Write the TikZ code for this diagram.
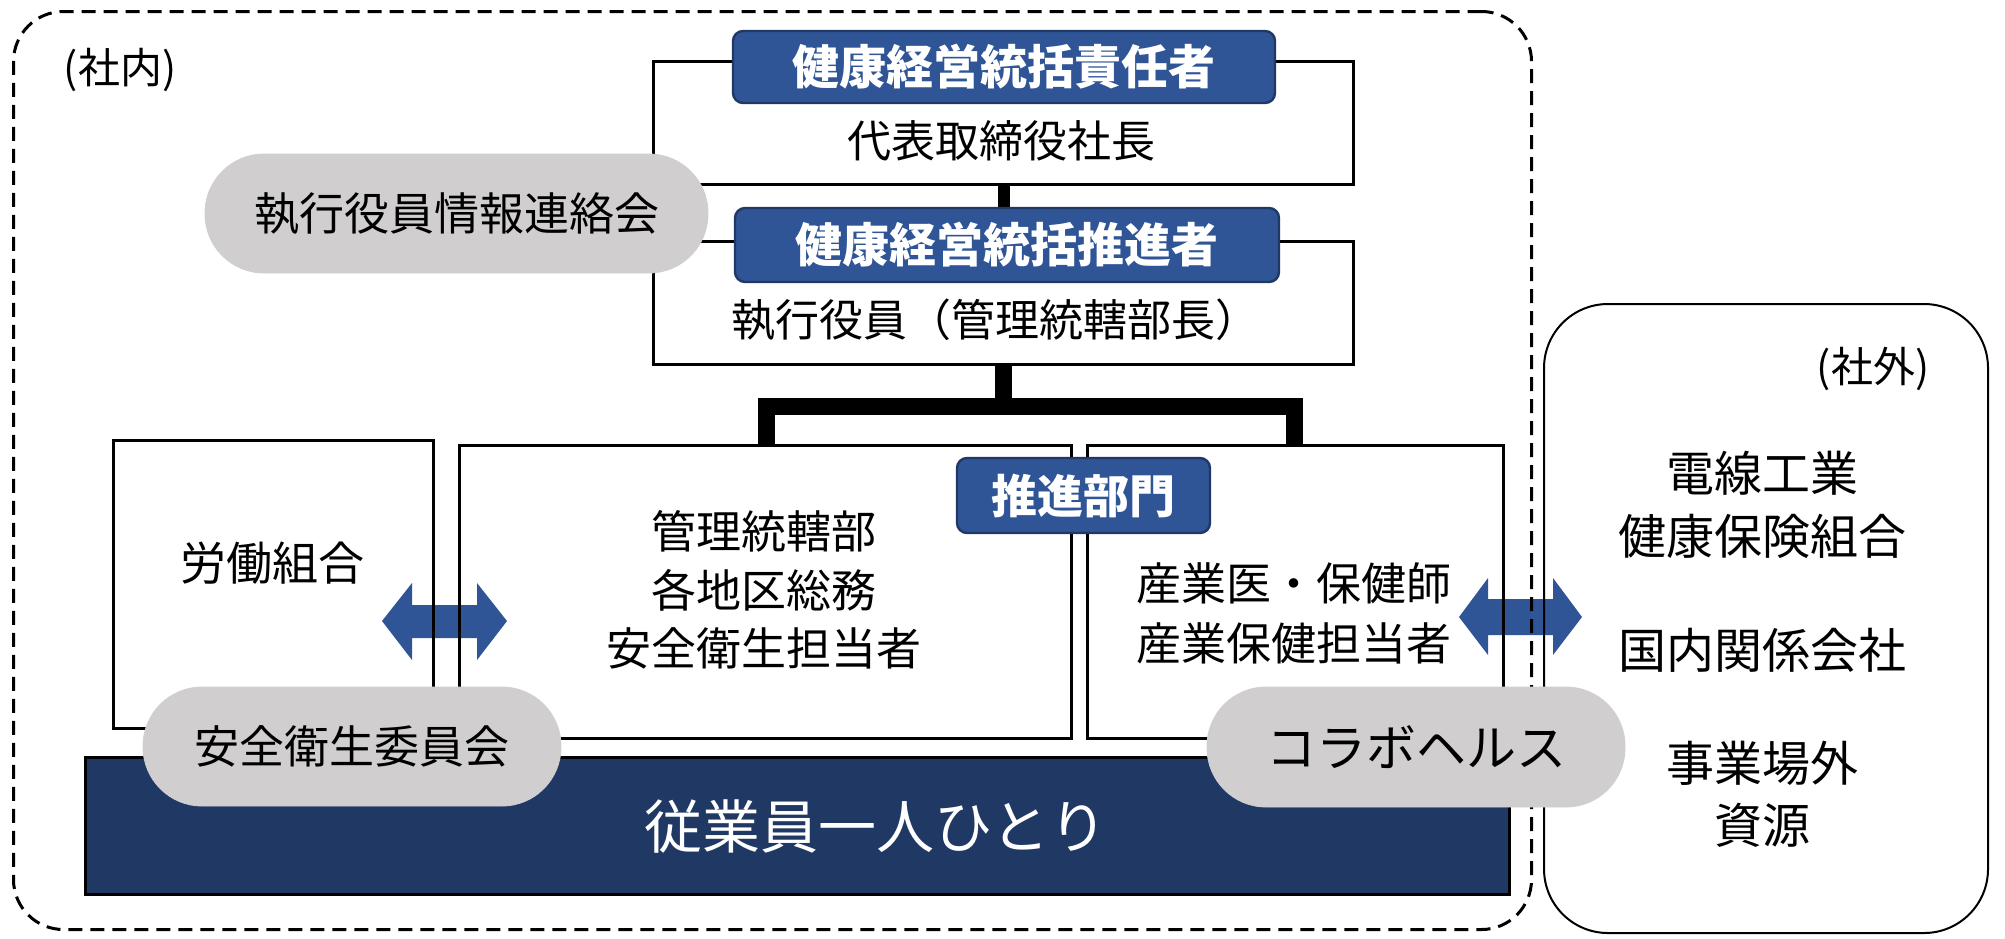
\documentclass[tikz,border=0pt]{standalone}
\usepackage{fontspec}
\setmainfont{Noto Sans CJK JP}
\definecolor{hblue}{HTML}{2F5597}
\definecolor{hedge}{HTML}{1F3864}
\definecolor{navy}{HTML}{203864}
\definecolor{pillgrey}{HTML}{D0CECE}
\newcommand\myfs[2]{\fontsize{#1}{#2}\selectfont}
\tikzset{
  frame/.style={draw=black, line width=1.5pt, inner sep=0pt, anchor=north west},
  hdr/.style={draw=hedge, line width=1.2pt, fill=hblue, rounded corners=5pt, text=white, inner sep=0pt, font=\myfs{23.5pt}{28pt}\bfseries},
  pill/.style={fill=pillgrey, draw=pillgrey, rounded corners=29.5pt, inner sep=0pt, text=black},
  txt/.style={inner sep=0pt, align=center, text=black},
  link/.style={line width=6pt},
  bus/.style={line width=8.5pt, line join=miter},
  dbl/.style={fill=hblue, draw=none}
}
\begin{document}
\begin{tikzpicture}[x=0.5pt, y=-0.5pt]
\useasboundingbox (0,0) rectangle (2005,938);
% double arrows (beneath the outlines)
\fill[dbl] (382,621) -- (412,583) -- (412,605) -- (477,605) -- (477,583) -- (507,621)
  -- (477,660) -- (477,638) -- (412,638) -- (412,660) -- cycle;
\fill[dbl] (1459,617) -- (1488,578) -- (1488,599) -- (1553,599) -- (1553,578) -- (1582,617)
  -- (1553,655) -- (1553,635) -- (1488,635) -- (1488,655) -- cycle;
% outer regions
\node[draw=black, line width=1.5pt, dash pattern=on 7pt off 4pt, rounded corners=25pt,
  anchor=north west, inner sep=0pt, minimum width=759pt, minimum height=459pt] (inside) at (12,10) {};
\node[draw=black, line width=1pt, rounded corners=32pt, anchor=north west, inner sep=0pt,
  minimum width=222pt, minimum height=314.5pt] (outside) at (1543,303) {};
% boxes
\node[frame, minimum width=350pt, minimum height=61.5pt] (b1) at (652,60) {};
\node[frame, minimum width=350pt, minimum height=61.5pt] (b2) at (652,240) {};
\node[frame, minimum width=160pt, minimum height=144pt] (ub) at (112,439) {};
\node[frame, minimum width=306pt, minimum height=146.5pt] (mid) at (458,444) {};
\node[frame, minimum width=208pt, minimum height=146.5pt] (rgt) at (1086,444) {};
% connectors
\coordinate (busL) at (766,406);
\coordinate (busR) at (1294,406);
\draw[link] (b1.south) -- (b1.south |- 0,210);
\draw[bus] (b2.south) -- (b2.south |- busL);
\draw[bus] (mid.north -| busL) -- (busL) -- (busR) -- (rgt.north -| busR);
% headers
\node[hdr, minimum width=271pt, minimum height=36pt] (h1) at (1004,67) {健康経営統括責任者};
\node[hdr, minimum width=272pt, minimum height=37pt] (h2) at (1007,245) {健康経営統括推進者};
\node[hdr, minimum width=126.5pt, minimum height=37.5pt, font=\myfs{23pt}{28pt}\bfseries] (prom) at (1083.5,495.5) {推進部門};
% employee bar
\node[draw=black, line width=1.5pt, fill=navy, anchor=north west, inner sep=0pt,
  minimum width=712pt, minimum height=68.5pt] (bar) at (84,756) {};
% pills
\node[pill, minimum width=251.5pt, minimum height=59.5pt, font=\myfs{22.5pt}{27pt}] (p1) at (456.5,213.5) {執行役員情報連絡会};
\node[pill, minimum width=209pt, minimum height=59.5pt, font=\myfs{22.5pt}{27pt}] (p2) at (352,746.5) {安全衛生委員会};
\node[pill, minimum width=209pt, minimum height=60pt, font=\myfs{25pt}{30pt}] (p3) at (1416,747) {コラボヘルス};
% texts
\node[txt, font=\myfs{21pt}{25pt}] (tin) at (120,70) {(社内)};
\node[txt, font=\myfs{21pt}{25pt}] (tout) at (1873,369) {(社外)};
\node[txt, font=\myfs{22pt}{26pt}] (t1) at (1001,141) {代表取締役社長};
\node[txt, font=\myfs{22pt}{26pt}] (t2) at (995,320) {執行役員（管理統轄部長）};
\node[txt, font=\myfs{23pt}{28pt}] (tu) at (272,563) {労働組合};
\node[txt, font=\myfs{22.5pt}{29.25pt}] (tm) at (764,590) {管理統轄部\\各地区総務\\安全衛生担当者};
\node[txt, font=\myfs{22.5pt}{30pt}] (tr) at (1294,613) {産業医・保健師\\産業保健担当者};
\node[txt, font=\myfs{29pt}{34pt}, text=white] (tb) at (876,827) {従業員一人ひとり};
\node[txt, font=\myfs{24pt}{31.5pt}] (e1) at (1762,505) {電線工業\\健康保険組合};
\node[txt, font=\myfs{24pt}{31.5pt}] (e2) at (1762,650) {国内関係会社};
\node[txt, font=\myfs{24pt}{31pt}] (e3) at (1762,794) {事業場外\\資源};
\end{tikzpicture}
\end{document}
